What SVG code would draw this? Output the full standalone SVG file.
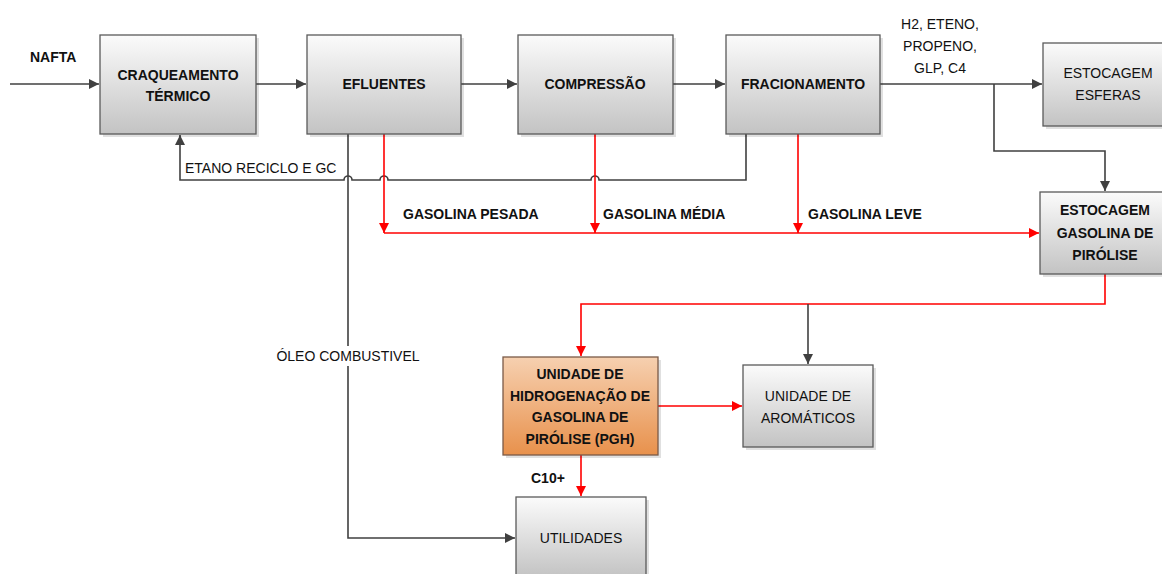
<svg xmlns="http://www.w3.org/2000/svg" width="1162" height="574" viewBox="0 0 1162 574">
<defs>
<linearGradient id="gg" x1="0" y1="0" x2="0" y2="1">
<stop offset="0" stop-color="#fbfbfb"/>
<stop offset="1" stop-color="#c3c3c3"/>
</linearGradient>
<linearGradient id="og" x1="0" y1="0" x2="0" y2="1">
<stop offset="0" stop-color="#f6d0b0"/>
<stop offset="1" stop-color="#e8914c"/>
</linearGradient>
<marker id="ak" viewBox="0 0 10 10" refX="10" refY="5" markerWidth="11" markerHeight="10" markerUnits="userSpaceOnUse" orient="auto">
<path d="M0,0 L10,5 L0,10 z" fill="#404040"/>
</marker>
<marker id="ar" viewBox="0 0 10 10" refX="10" refY="5" markerWidth="11" markerHeight="10" markerUnits="userSpaceOnUse" orient="auto">
<path d="M0,0 L10,5 L0,10 z" fill="#ff0000"/>
</marker>
</defs>
<style>
.box{fill:url(#gg);stroke:#5a5a5a;stroke-width:1.3}
.obox{fill:url(#og);stroke:#7a5a48;stroke-width:1.3}
.sh{fill:#000;opacity:0.12}
.t{font-family:"Liberation Sans",Arial,sans-serif;font-size:14px;fill:#111;text-anchor:middle}
.b{font-weight:bold}
.l{font-family:"Liberation Sans",Arial,sans-serif;font-size:14px;fill:#111}
.k{fill:none;stroke:#404040;stroke-width:1.6}
.r{fill:none;stroke:#ff0000;stroke-width:1.6}
</style>
<rect width="1162" height="574" fill="#fff"/>

<g id="connectors">
<path class="k" d="M10,84 H99" marker-end="url(#ak)"/>
<path class="k" d="M256,84 H306" marker-end="url(#ak)"/>
<path class="k" d="M461,84 H517" marker-end="url(#ak)"/>
<path class="k" d="M673,84 H725" marker-end="url(#ak)"/>
<path class="k" d="M880,84 H1042" marker-end="url(#ak)"/>
<path class="k" d="M994,84 V151 H1105 V191" marker-end="url(#ak)"/>
<path class="k" d="M746,134 V180 H599 A4,4 0 0 0 591,180 H388 A4,4 0 0 0 380,180 H352 A4,4 0 0 0 344,180 H180 V135" marker-end="url(#ak)"/>
<path class="k" d="M348,134 V538 H515" marker-end="url(#ak)"/>
<path class="r" d="M384,134 V233" marker-end="url(#ar)"/>
<path class="r" d="M595,134 V233" marker-end="url(#ar)"/>
<path class="r" d="M798,134 V233" marker-end="url(#ar)"/>
<path class="r" d="M384,233 H1039" marker-end="url(#ar)"/>
<path class="r" d="M1105,274 V304 H581 V356" marker-end="url(#ar)"/>
<path class="k" d="M808,304 V364" marker-end="url(#ak)"/>
<path class="r" d="M658,406 H742" marker-end="url(#ar)"/>
<path class="r" d="M581,455 V496" marker-end="url(#ar)"/>
<rect x="274" y="346" width="148" height="20" fill="#fff"/>
</g>

<g id="labels">
<text class="l b" x="30" y="62">NAFTA</text>
<text class="l" x="185" y="173">ETANO RECICLO E GC</text>
<text class="l b" x="403" y="219">GASOLINA PESADA</text>
<text class="l b" x="603" y="219">GASOLINA MÉDIA</text>
<text class="l b" x="808" y="219">GASOLINA LEVE</text>
<text class="t" x="940" y="29">H2, ETENO,</text>
<text class="t" x="940" y="51">PROPENO,</text>
<text class="t" x="940" y="73">GLP, C4</text>
<text class="t" x="348" y="361">ÓLEO COMBUSTIVEL</text>
<text class="l b" x="531" y="483">C10+</text>
</g>

<g id="craqueamento">
<rect class="sh" x="103" y="38" width="156" height="99"/>
<rect class="box" x="100" y="35" width="156" height="99"/>
<text class="t b" x="178" y="80">CRAQUEAMENTO</text>
<text class="t b" x="178" y="101">TÉRMICO</text>
</g>
<g id="efluentes">
<rect class="sh" x="310" y="38" width="154" height="99"/>
<rect class="box" x="307" y="35" width="154" height="99"/>
<text class="t b" x="384" y="89">EFLUENTES</text>
</g>
<g id="compressao">
<rect class="sh" x="521" y="38" width="155" height="99"/>
<rect class="box" x="518" y="35" width="155" height="99"/>
<text class="t b" x="595" y="89">COMPRESSÃO</text>
</g>
<g id="fracionamento">
<rect class="sh" x="729" y="38" width="154" height="99"/>
<rect class="box" x="726" y="35" width="154" height="99"/>
<text class="t b" x="803" y="89">FRACIONAMENTO</text>
</g>
<g id="esferas">
<rect class="sh" x="1046" y="46" width="130" height="83"/>
<rect class="box" x="1043" y="43" width="130" height="83"/>
<text class="t" x="1108" y="78">ESTOCAGEM</text>
<text class="t" x="1108" y="100">ESFERAS</text>
</g>
<g id="estocagem-gasolina">
<rect class="sh" x="1043" y="195" width="130" height="82"/>
<rect class="box" x="1040" y="192" width="130" height="82"/>
<text class="t b" x="1105" y="215">ESTOCAGEM</text>
<text class="t b" x="1105" y="238">GASOLINA DE</text>
<text class="t b" x="1105" y="260">PIRÓLISE</text>
</g>
<g id="pgh">
<rect class="sh" x="506" y="360" width="155" height="98"/>
<rect class="obox" x="503" y="357" width="155" height="98"/>
<text class="t b" x="580" y="379">UNIDADE DE</text>
<text class="t b" x="580" y="401">HIDROGENAÇÃO DE</text>
<text class="t b" x="580" y="422">GASOLINA DE</text>
<text class="t b" x="580" y="444">PIRÓLISE (PGH)</text>
</g>
<g id="aromaticos">
<rect class="sh" x="746" y="368" width="130" height="82"/>
<rect class="box" x="743" y="365" width="130" height="82"/>
<text class="t" x="808" y="401">UNIDADE DE</text>
<text class="t" x="808" y="423">AROMÁTICOS</text>
</g>
<g id="utilidades">
<rect class="sh" x="519" y="500" width="130" height="80"/>
<rect class="box" x="516" y="497" width="130" height="80"/>
<text class="t" x="581" y="543">UTILIDADES</text>
</g>
</svg>
